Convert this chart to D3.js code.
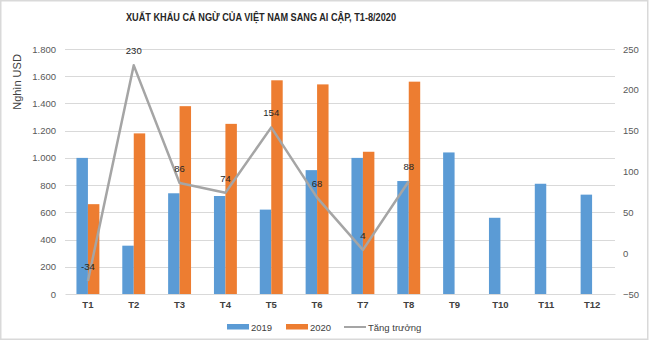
<!DOCTYPE html>
<html>
<head>
<meta charset="utf-8">
<script src="https://cdn.jsdelivr.net/npm/d3@7/dist/d3.min.js"></script>
<style>
  html, body { margin: 0; padding: 0; background: #fff; }
  svg { display: block; font-family: "Liberation Sans", Arial, Helvetica, sans-serif; }
</style>
</head>
<body>
<svg id="chart" width="650" height="345"></svg>
<script>
// Monthly tuna exports to Egypt (thousand USD) and year-on-year growth (%)
const months = ["T1","T2","T3","T4","T5","T6","T7","T8","T9","T10","T11","T12"];
const exports2019 = [1000, 355, 740, 720, 620, 910, 1000, 830, 1040, 560, 810, 730];
const exports2020 = [660, 1180, 1380, 1250, 1570, 1540, 1045, 1560, null, null, null, null];
const growth = [-34, 230, 86, 74, 154, 68, 4, 88];
const leftTicks = [0, 200, 400, 600, 800, 1000, 1200, 1400, 1600, 1800];
const rightTicks = [-50, 0, 50, 100, 150, 200, 250];
const seriesNames = ["2019", "2020"];
const colors = { "2019": "#5B9BD5", "2020": "#ED7D31", growth: "#A5A5A5" };

const svg = d3.select("#chart");
const W = 650, H = 345;
const plot = { left: 65, right: 615, top: 49, bottom: 294 };

// chart frame
svg.append("rect").attr("x", 0.75).attr("y", 0.75).attr("width", W - 3).attr("height", H - 6.5)
  .attr("fill", "#fff").attr("stroke", "#D9D9D9").attr("stroke-width", 1.5);

const x = d3.scaleBand().domain(months).range([plot.left, plot.right])
  .paddingInner(0.5).paddingOuter(0.25);
const xs = d3.scaleBand().domain(seriesNames).range([0, x.bandwidth()]);
const y = d3.scaleLinear().domain([0, 1800]).range([plot.bottom, plot.top]);
const y2 = d3.scaleLinear().domain([-50, 250]).range([plot.bottom, plot.top]);
const center = m => x(m) + x.bandwidth() / 2;

// horizontal gridlines
svg.append("g").selectAll("line").data(leftTicks.slice(1)).join("line")
  .attr("x1", plot.left).attr("x2", plot.right)
  .attr("y1", d => Math.round(y(d)) + 0.5).attr("y2", d => Math.round(y(d)) + 0.5)
  .attr("stroke", "#D9D9D9").attr("stroke-width", 1);

// left axis
const fmt = d => d3.format(",")(d).replace(/,/g, ".");
const gl = svg.append("g").attr("transform", `translate(${plot.left},0)`)
  .call(d3.axisLeft(y).tickValues(leftTicks).tickFormat(fmt).tickSize(0).tickPadding(9));
gl.select(".domain").remove();
gl.selectAll("text").attr("fill", "#595959").style("font-size", "9.5px");

// right axis
const gr = svg.append("g").attr("transform", `translate(${plot.right},0)`)
  .call(d3.axisRight(y2).tickValues(rightTicks).tickSize(0).tickPadding(8));
gr.select(".domain").remove();
gr.selectAll("text").attr("fill", "#595959").style("font-size", "9.5px");

// bottom axis
const gb = svg.append("g").attr("transform", `translate(0,${plot.bottom})`)
  .call(d3.axisBottom(x).tickSize(0).tickPadding(7));
gb.select(".domain").attr("stroke", "#D9D9D9");
gb.selectAll("text").attr("fill", "#404040").style("font-size", "9.5px").style("font-weight", "bold");

// bars
const barData = [];
months.forEach((m, i) => {
  barData.push({ m, s: "2019", v: exports2019[i] });
  if (exports2020[i] != null) barData.push({ m, s: "2020", v: exports2020[i] });
});
svg.append("g").selectAll("rect").data(barData).join("rect")
  .attr("x", d => x(d.m) + xs(d.s))
  .attr("width", xs.bandwidth())
  .attr("y", d => y(d.v))
  .attr("height", d => y(0) - y(d.v))
  .attr("fill", d => colors[d.s]);

// growth line
const gData = growth.map((v, i) => ({ m: months[i], v }));
svg.append("path").datum(gData)
  .attr("fill", "none").attr("stroke", colors.growth).attr("stroke-width", 2.5)
  .attr("stroke-linejoin", "round")
  .attr("d", d3.line().x(d => center(d.m)).y(d => y2(d.v)));

svg.append("g").selectAll("text").data(gData).join("text")
  .attr("x", d => center(d.m)).attr("y", d => y2(d.v) - 11)
  .attr("text-anchor", "middle").attr("fill", "#262626")
  .style("font-size", "9.5px").text(d => d.v);

// title
svg.append("text").attr("x", 261).attr("y", 21).attr("text-anchor", "middle")
  .attr("fill", "#262626").style("font-weight", "bold").style("font-size", "11.5px")
  .attr("textLength", 270).attr("lengthAdjust", "spacingAndGlyphs")
  .text("XUẤT KHẨU CÁ NGỪ CỦA VIỆT NAM SANG AI CẬP, T1-8/2020");

// y axis title
svg.append("text").attr("transform", "translate(21,82) rotate(-90)")
  .attr("text-anchor", "middle").attr("fill", "#404040").style("font-size", "11px")
  .text("Nghìn USD");

// legend
const legend = [
  { label: "2019", type: "bar", color: colors["2019"], x: 227 },
  { label: "2020", type: "bar", color: colors["2020"], x: 286 },
  { label: "Tăng trưởng", type: "line", color: colors.growth, x: 344 }
];
const lg = svg.append("g").attr("transform", "translate(0,327)");
legend.forEach(d => {
  if (d.type === "bar") {
    lg.append("rect").attr("x", d.x).attr("y", -3).attr("width", 22).attr("height", 5.5).attr("fill", d.color);
  } else {
    lg.append("line").attr("x1", d.x).attr("x2", d.x + 22).attr("y1", 0).attr("y2", 0)
      .attr("stroke", d.color).attr("stroke-width", 2);
  }
  lg.append("text").attr("x", d.x + 24).attr("y", 3.5).attr("fill", "#404040")
    .style("font-size", "9.5px").text(d.label);
});
</script>
</body>
</html>
